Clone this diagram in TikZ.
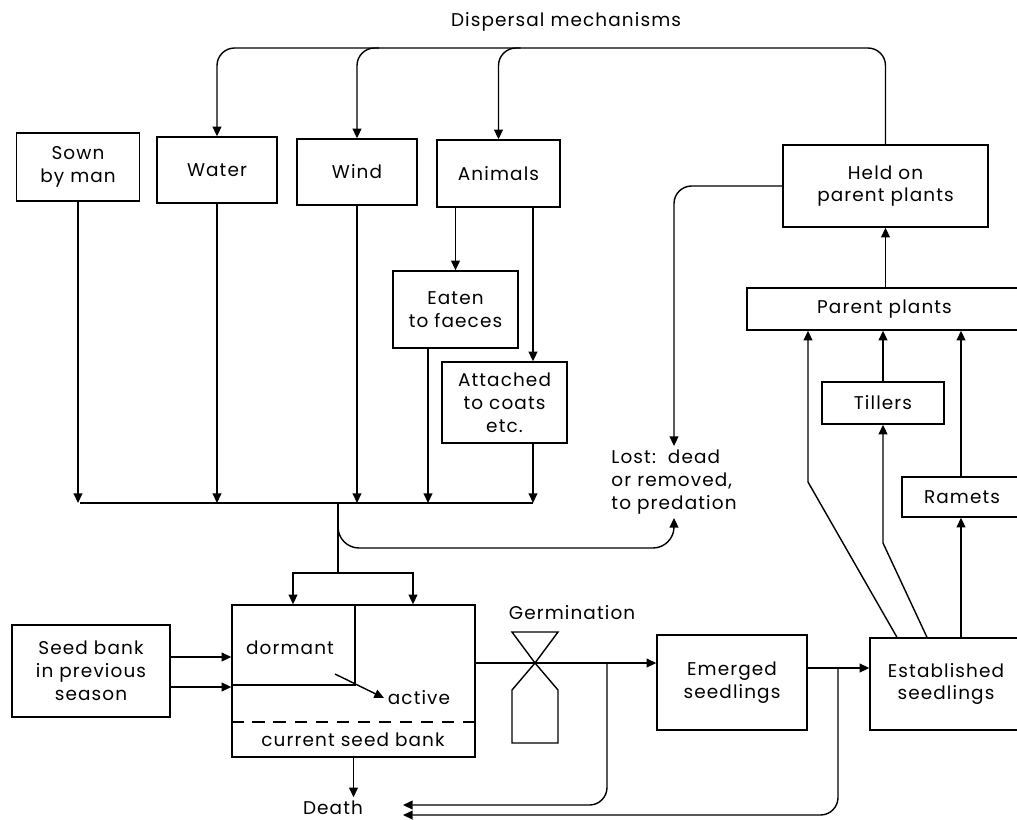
\documentclass[tikz,border=0pt]{standalone}
\usepackage{fontspec}
\setmainfont{Poppins}[LetterSpace=6]
\usetikzlibrary{arrows.meta, calc}

\begin{document}
\begin{tikzpicture}[x=0.02cm, y=-0.02cm,
  box/.style={rectangle, draw, line width=0.8pt, align=center, inner sep=0pt, font=\fontsize{10.5}{13}\selectfont},
  lbl/.style={align=center, inner sep=2pt, font=\fontsize{10.5}{13}\selectfont},
  arrow/.style={-{Triangle[length=5.5pt, width=5pt]}, line width=0.8pt},
  link/.style={line width=0.8pt}
]
  \clip (0,0) rectangle (1017,819);

  % Dispersal mechanisms
  \node[lbl] (title) at (566,22) {Dispersal mechanisms};
  \node[box, minimum width=2.46cm, minimum height=1.36cm] (sown) at (78,167) {Sown\\by man};
  \node[box, minimum width=2.4cm, minimum height=1.32cm] (water) at (217,170) {Water};
  \node[box, minimum width=2.4cm, minimum height=1.32cm] (wind) at (357,172) {Wind};
  \node[box, minimum width=2.46cm, minimum height=1.34cm] (animals) at (498.5,173.5) {Animals};
  \node[box, minimum width=2.5cm, minimum height=1.54cm] (eaten) at (455.5,309.5) {Eaten\\to faeces};
  \node[box, minimum width=2.5cm, minimum height=1.62cm] (attached) at (504.5,402.5) {Attached\\to coats\\etc.};
  \node[box, minimum width=4.1cm, minimum height=1.64cm] (held) at (885.5,186) {Held on\\parent plants};
  \node[lbl, align=left] (lost) at (674,482) {Lost:\ \ dead\\or removed,\\to predation};

  % Parent plants side
  \node[box, minimum width=5.5cm, minimum height=0.84cm] (parent) at (884.5,309) {Parent plants};
  \node[box, minimum width=2.44cm, minimum height=0.84cm] (tillers) at (883,403) {Tillers};
  \node[box, minimum width=2.4cm, minimum height=0.8cm] (ramets) at (962,497) {Ramets};

  % Seed bank and seedlings
  \node[box, minimum width=3.16cm, minimum height=1.84cm] (prevbank) at (91,671) {Seed bank\\in previous\\season};
  \node[box, minimum width=4.86cm, minimum height=3.04cm] (bank) at (353.5,681) {};
  \node[lbl] (dormant) at (290,648) {dormant};
  \node[lbl] (active) at (419,698) {active};
  \node[lbl] (curbank) at (353,740) {current seed bank};
  \node[lbl] (germlbl) at (572,613) {Germination};
  \node[box, minimum width=3cm, minimum height=1.9cm] (emerged) at (732,682.5) {Emerged\\seedlings};
  \node[box, minimum width=3.04cm, minimum height=1.84cm] (established) at (946,684) {Established\\seedlings};
  \node[lbl] (death) at (333,808) {Death};

  % Helper points
  \coordinate (tb) at (217,48);
  \coordinate (busL) at (80,503);
  \coordinate (busR) at (533,503);
  \coordinate (split) at (338,503);
  \coordinate (fork) at (338,573);
  \coordinate (lostBend) at (674,548);
  \coordinate (germ) at (535,663);
  \coordinate (drop1) at (607,663);
  \coordinate (drop2) at (838,668);
  \coordinate (dIn1) at (403,805);
  \coordinate (dIn2) at (403,815);
  \coordinate (eatenOut) at (428,348);
  \coordinate (attX) at (533,0);
  \coordinate (ramX) at (961,0);

  % Dispersal lines
  \draw[arrow, rounded corners=10pt] (held.north) |- (tb) -- (water.north);
  \draw[arrow, rounded corners=10pt] ($(wind.north |- tb)+(22,0)$) -- (wind.north |- tb) -- (wind.north);
  \draw[arrow, rounded corners=10pt] ($(animals.north |- tb)+(22,0)$) -- (animals.north |- tb) -- (animals.north);
  \draw[arrow] (eaten.north |- animals.south) -- (eaten.north);
  \draw[arrow] (attX |- animals.south) -- (attX |- attached.north);

  % Into the bus
  \draw[link] (busL) -- (busR);
  \draw[arrow] (sown.south) -- (sown.south |- busL);
  \draw[arrow] (water.south) -- (water.south |- busL);
  \draw[arrow] (wind.south) -- (wind.south |- busL);
  \draw[arrow] (eatenOut) -- (eatenOut |- busL);
  \draw[arrow] (attX |- attached.south) -- (busR);

  % Losses
  \draw[arrow, rounded corners=10pt] (held.west) -| (lost.north);
  \draw[arrow, rounded corners=12pt] (split) |- (lostBend) -- (lost.south);

  % Into current seed bank
  \draw[link] (split) -- (fork);
  \draw[arrow] (fork) -| ([xshift=-1.21cm]bank.north);
  \draw[arrow] (fork) -| ([xshift=1.19cm]bank.north);
  \draw[arrow] ([yshift=0.28cm]prevbank.east) -- ([yshift=0.28cm]prevbank.east -| bank.west);
  \draw[arrow] ([yshift=-0.32cm]prevbank.east) -- ([yshift=-0.32cm]prevbank.east -| bank.west);

  % Inside the seed bank
  \draw[link] (355,0 |- bank.north) -- (355,685) -- (355,685 -| bank.west);
  \draw[link, dash pattern=on 7pt off 5pt] (0,722 -| bank.west) -- (0,722 -| bank.east);
  \draw[arrow] (335,674) -- (active.west);
  \draw[arrow] (bank.south) -- (bank.south |- death.north);

  % Germination
  \draw[link] (germ) -- ++(-23,-31) -- ++(46,0) -- cycle;
  \draw[link] (germ) -- ++(-23,27) -- ++(0,53) -- ++(46,0) -- ++(0,-53) -- cycle;
  \draw[arrow] (germ -| bank.east) -- (germ -| emerged.west);
  \draw[arrow] (drop2 -| emerged.east) -- (drop2 -| established.west);

  % Seedling deaths
  \draw[arrow, rounded corners=10pt] (drop1) |- (dIn1);
  \draw[arrow, rounded corners=10pt] (drop2) |- (dIn2);

  % Growth to parent plants
  \draw[arrow] (held.south |- parent.north) -- (held.south);
  \draw[arrow] (tillers.north) -- (tillers.north |- parent.south);
  \draw[arrow] (ramX |- ramets.north) -- (ramX |- parent.south);
  \draw[arrow] (ramX |- established.north) -- (ramX |- ramets.south);
  \draw[arrow] (927,0 |- established.north) -- (tillers.south |- 0,543) -- (tillers.south);
  \draw[arrow] (897,0 |- established.north) -- (808,482) -- (808,0 |- parent.south);
\end{tikzpicture}
\end{document}
